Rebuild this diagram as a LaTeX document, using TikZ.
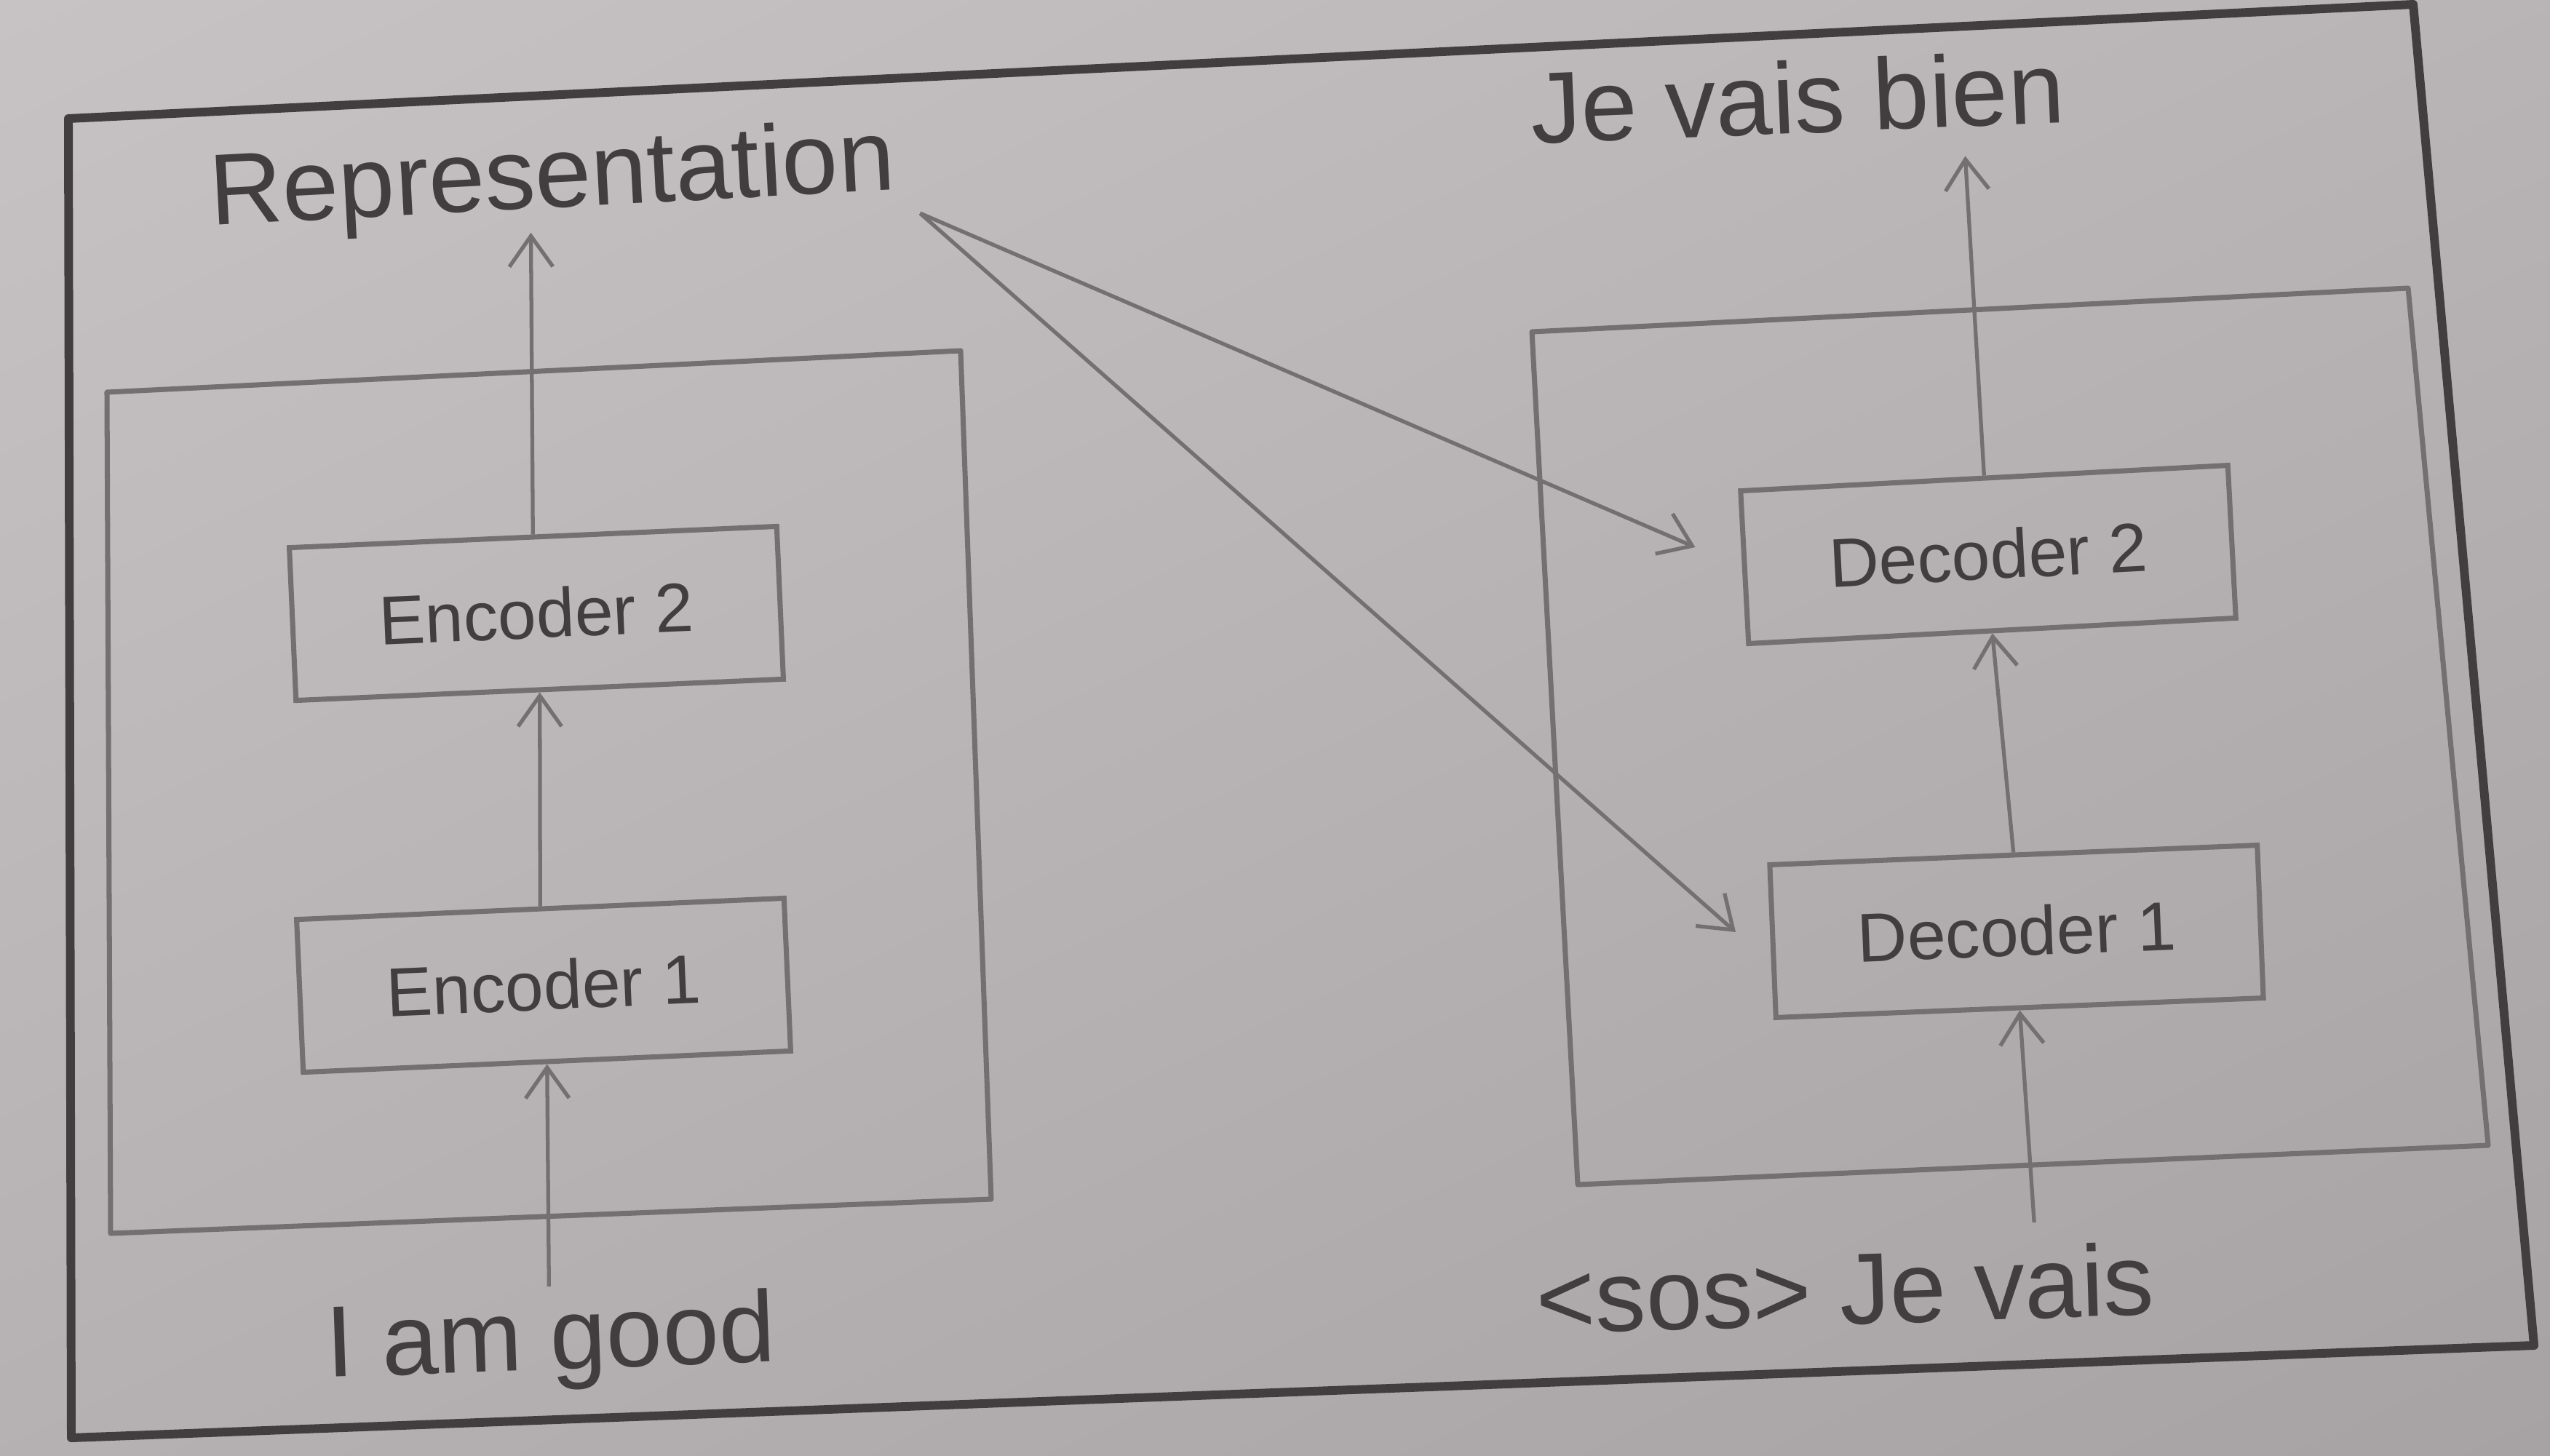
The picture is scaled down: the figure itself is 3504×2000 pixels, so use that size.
\documentclass[tikz,border=0pt]{standalone}
\usepackage{fontspec}
\setmainfont{Liberation Sans}
\usetikzlibrary{arrows.meta,calc,shadings}

\definecolor{paperhi}{HTML}{C7C3C5}
\definecolor{paperlo}{HTML}{A7A3A5}
\definecolor{ink}{HTML}{423E40}
\definecolor{rule}{HTML}{747072}

\begin{document}
\begin{tikzpicture}[x=0.01cm, y=-0.01cm,
  frame/.style={draw=ink, line width=3.4pt, line join=round},
  panel/.style={draw=rule, line width=2pt, line join=round},
  block/.style={draw=rule, line width=2pt, minimum width=6.7cm,
    minimum height=2.1cm, inner sep=0pt, text=ink,
    font=\fontsize{27}{32}\selectfont},
  word/.style={text=ink, font=\fontsize{39.5}{46}\selectfont,
    inner sep=1pt, anchor=base},
  flow/.style={draw=rule, line width=1.5pt,
    -{Straight Barb[length=12pt, width=17pt, line width=1.5pt]}},
]
\useasboundingbox (0,0) rectangle (3504,2000);
% paper
\shade[upper left=paperhi, lower right=paperlo,
       upper right=paperhi!55!paperlo, lower left=paperhi!45!paperlo]
  (0,0) rectangle (3504,2000);

% outer frame and the two stacks
\draw[frame] (94,163) -- (3316,6) -- (3482,1849) -- (98,1976) -- cycle;
\draw[panel] (147,539) -- (1320,482) -- (1362,1648) -- (152,1695) -- cycle;
\draw[panel] (2105,456) -- (3309,396) -- (3419,1574) -- (2168,1628) -- cycle;

% encoder and decoder blocks
\node[block, rotate=2.5] (enc2) at (737,843)  {Encoder 2};
\node[block, rotate=2.5] (enc1) at (747,1354) {Encoder 1};
\node[block, rotate=3]   (dec2) at (2732,762) {Decoder 2};
\node[block, rotate=2.3] (dec1) at (2771,1280) {Decoder 1};

% inputs and outputs
\node[word, rotate=3]   (rep) at (761,285)   {Representation};
\node[word, rotate=2.3] (out) at (2472,183)  {Je vais bien};
\node[word, rotate=2]   (src) at (758,1882)  {I am good};
\node[word, rotate=1.8] (tgt) at (2537,1820) {<sos> Je vais};

% encoder stack
\draw[flow] ($(src.north)+(0,-9)$) -- (enc1.south);
\draw[flow] (enc1.north) -- (enc2.south);
\draw[flow] (enc2.north) -- ($(rep.south)!0.07!(rep.south west)$);

% decoder stack
\draw[flow] ($(tgt.north)!0.61!(tgt.north east)+(0,-27)$) -- (dec1.south);
\draw[flow] (dec1.north) -- (dec2.south);
\draw[flow, shorten >=0.35cm] (dec2.north) -- ($(out.south)!0.61!(out.south east)$);

% representation fed to both decoders
\draw[flow, shorten >=0.7cm] ([xshift=2.7mm]rep.south east) -- (dec2.west);
\draw[flow, shorten >=0.65cm] ([xshift=2.7mm]rep.south east)
  -- ($(dec1.west)!0.28!(dec1.south west)$);
\end{tikzpicture}
\end{document}
